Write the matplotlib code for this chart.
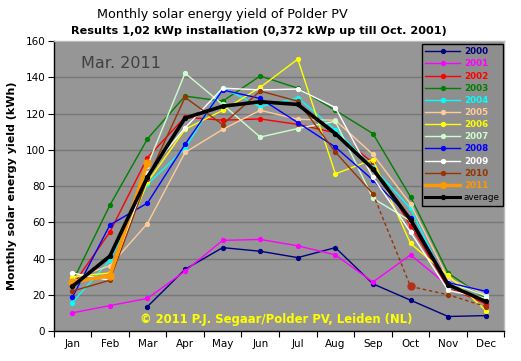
import numpy as np
import matplotlib
matplotlib.use("Agg")
import matplotlib.pyplot as plt
from matplotlib.lines import Line2D

months = ["Jan", "Feb", "Mar", "Apr", "May", "Jun", "Jul", "Aug", "Sep", "Oct", "Nov", "Dec"]
nan = np.nan

y2000 = [nan, nan, 13.5, 34, 46, 44, 40.5, 46, 26, 17, 8, 8.5]
y2001 = [10, 14, 18, 33, 50, 50.5, 47, 42, 27, 42, 25, 15]
y2002 = [25, 54.6, 95.7, 118, 116.3, 117, 114, 109.4, 92.8, 58, 24, 15]
y2003 = [27, 69.4, 106, 129.6, 126.8, 140.7, 134, 121.7, 108.9, 74, 32, 18]
y2004 = [15.7, 39, 81, 100.7, 134.3, 123.7, 128.7, 111, 90.4, 67.6, 24.4, 17]
y2005 = [29, 36, 59.3, 98.5, 111.2, 121.8, 116.8, 116.3, 97.4, 70, 29, 20]
y2006 = [30, 32, 82, 111.3, 121.7, 134.4, 150, 86.7, 94.6, 48.3, 30.7, 11.3]
y2007 = [28, 30, 91.3, 142.3, 125, 107, 111.7, 115.7, 73.2, 60.7, 27, 19.4]
y2008 = [18.5, 58.5, 70.6, 103, 133, 128.3, 115, 101.5, 83.3, 62.6, 26.7, 21.9]
y2009 = [32, 28, 87, 112.1, 134, 133, 133.5, 123.3, 84.8, 54.6, 22.4, 18]
y2010 = [22, 28, 84, 128.9, 113.9, 132.4, 126.8, 98.7, 75.7, 24.6, 20, 13.5]
y2011 = [27, 30.5, 92.8]
average = [24.6, 41.3, 85, 117.5, 124, 126.5, 125, 108.9, 89.4, 61.3, 25.5, 16.3]

series = [
    ("2000", y2000, "#000080"),
    ("2001", y2001, "#ff00ff"),
    ("2002", y2002, "#ff0000"),
    ("2003", y2003, "#008000"),
    ("2004", y2004, "#00ffff"),
    ("2005", y2005, "#ffcc99"),
    ("2006", y2006, "#ffff00"),
    ("2007", y2007, "#ccffcc"),
    ("2008", y2008, "#0000ff"),
    ("2009", y2009, "#ffffff"),
    ("2010", y2010, "#993300"),
]

fig = plt.figure(figsize=(5.21, 3.61), dpi=100)
fig.patch.set_facecolor("white")
ax = fig.add_axes([0.1027, 0.0831, 0.8656, 0.8033])
ax.set_facecolor("#969696")

x = np.arange(len(months))
ax.set_xlim(-0.5, 11.5)
ax.set_ylim(0, 160)
ax.set_yticks(np.arange(0, 161, 20))
ax.yaxis.grid(True, color="#777777", lw=1)
ax.set_axisbelow(True)

MS = 2.8
handles = []
for name, vals, col in series:
    v = np.array(vals, dtype=float)
    if name == "2010":
        ax.plot(x[:9], v[:9], color=col, lw=1, marker="o", ms=MS, zorder=3)
        ax.plot(x[8:], v[8:], color=col, lw=1, ls=(0, (2.5, 2)), marker="o", ms=MS,
                markevery=[1, 2, 3], zorder=3)
        ax.plot([x[9]], [v[9]], marker="o", ms=5, color="#b5301a", zorder=4, ls="none")
    else:
        ax.plot(x, v, color=col, lw=1, marker="o", ms=MS, zorder=3)
    handles.append(Line2D([], [], color=col, lw=1, marker="o", ms=MS))

x11 = np.arange(len(y2011))
ax.plot(x11, y2011, color="#ff9900", lw=2.6, marker="o", ms=5, zorder=5)
handles.append(Line2D([], [], color="#ff9900", lw=2.4, marker="o", ms=4.2))
ax.plot(x, average, color="black", lw=2.6, marker="o", ms=MS, zorder=6)
handles.append(Line2D([], [], color="black", lw=2.2, marker="o", ms=MS))

labels = [s[0] for s in series] + ["2011", "average"]
label_colors = [s[2] for s in series] + ["#ff9900", "black"]

# ticks
ax.set_xticks(np.arange(-0.5, 12.0, 1.0))
ax.set_xticklabels([])
ax.set_xticks(x, minor=True)
ax.set_xticklabels(months, minor=True, fontsize=7.5)
ax.tick_params(axis="x", which="major", length=4, direction="out", color="black")
ax.tick_params(axis="x", which="minor", length=0, pad=6)
ax.tick_params(axis="y", length=4, direction="out", labelsize=7.5, pad=2)

for s in ["left", "bottom"]:
    ax.spines[s].set_color("black")
    ax.spines[s].set_linewidth(1)
for s in ["top", "right"]:
    ax.spines[s].set_color("#bbbbbb")
    ax.spines[s].set_linewidth(1)

leg = ax.legend(handles, labels, loc="upper right", bbox_to_anchor=(1.0, 0.995),
                fontsize=6.3, frameon=True, fancybox=False, handlelength=4.0,
                handletextpad=0.4, labelspacing=0.36, borderpad=0.4,
                borderaxespad=0.15)
frame = leg.get_frame()
frame.set_facecolor("#8e8e8e")
frame.set_edgecolor("black")
frame.set_linewidth(1)
frame.set_alpha(1)
for t, c in zip(leg.get_texts(), label_colors):
    t.set_color(c)
    if t.get_text() != "average":
        t.set_fontweight("bold")

ax.text(0.06, 0.95, "Mar. 2011", transform=ax.transAxes, fontsize=11.5,
        color="#404040", va="top", ha="left")
ax.text(0.494, 0.04, "\u00a9 2011 P.J. Segaar/Polder PV, Leiden (NL)", transform=ax.transAxes,
        fontsize=8.4, color="#ffff00", fontweight="bold", va="center", ha="center")

fig.text(0.427, 0.960, "Monthly solar energy yield of Polder PV", fontsize=9.2,
         ha="center", va="center")
fig.text(0.497, 0.913, "Results 1,02 kWp installation (0,372 kWp up till Oct. 2001)",
         fontsize=8.1, fontweight="bold", ha="center", va="center")
ax.set_ylabel("Monthly solar energy yield (kWh)", fontsize=8, fontweight="bold", labelpad=6)

fig.savefig("out.png", dpi=100, facecolor="white")
